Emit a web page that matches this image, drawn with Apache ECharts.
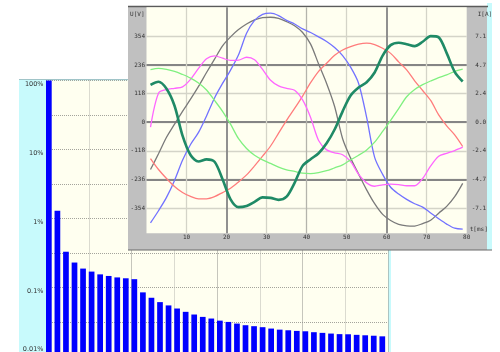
<!DOCTYPE html>
<html>
<head>
<meta charset="utf-8">
<script src="https://cdn.jsdelivr.net/npm/echarts@6/dist/echarts.min.js"></script>
<style>
html, body { margin: 0; padding: 0; background: #fff; }
#chart { width: 500px; height: 352px; }
</style>
</head>
<body>
<div id="chart"></div>
<script>
// back chart: harmonic levels in % of the fundamental
var harmonics = [1, 2, 3, 4, 5, 6, 7, 8, 9, 10, 11, 12, 13, 14, 15, 16, 17, 18, 19, 20,
    21, 22, 23, 24, 25, 26, 27, 28, 29, 30, 31, 32, 33, 34, 35, 36, 37, 38, 39, 40];
var harmonicLevels = [100, 1.3, 0.33, 0.23, 0.188, 0.17, 0.155, 0.147, 0.14, 0.136,
    0.132, 0.085, 0.071, 0.0614, 0.055, 0.0496, 0.0444, 0.0406, 0.0375, 0.0355,
    0.0331, 0.0317, 0.030, 0.0284, 0.0275, 0.0266, 0.0254, 0.0245, 0.024, 0.0235,
    0.0232, 0.0225, 0.022, 0.0215, 0.0211, 0.021, 0.0206, 0.0203, 0.020, 0.0196];
var levelLabels = ['0.01%', '0.1%', '1%', '10%', '100%']; // bottom -> top

// front chart: waveforms
var times = [1, 3, 5, 7, 9, 11, 13, 15, 17, 19, 21, 23, 25, 27, 29, 31, 33, 35, 37, 39,
    41, 43, 45, 47, 49, 51, 53, 55, 57, 59, 61, 63, 65, 67, 69, 71, 73, 75, 77, 79];
var uGray = [-195, -130, -62, -8, 45, 95, 148, 205, 260, 315, 352, 382, 405, 422, 431, 433, 428, 415, 398, 370,
    322, 240, 160, 65, -68, -148, -214, -279, -336, -380, -405, -421, -427, -428, -418, -404, -375, -347, -307, -252];
var uBlue = [-415, -365, -310, -240, -157, -92, -42, 26, 100, 160, 215, 278, 367, 420, 445, 450, 440, 420, 405, 385,
    370, 352, 333, 308, 275, 227, 160, 20, -145, -215, -268, -296, -318, -336, -350, -374, -398, -420, -437, -441];
var uRed = [-150, -195, -232, -265, -290, -306, -316, -316, -307, -290, -272, -246, -217, -180, -140, -98, -45, 8, 57, 108,
    163, 210, 243, 276, 298, 312, 322, 326, 320, 305, 284, 249, 216, 171, 131, 90, 30, -15, -52, -100];
var iPink = [-0.4, 2.4, 2.7, 2.8, 2.92, 3.54, 4.44, 5.24, 5.48, 5.28, 5.1, 5.12, 5.36, 5.16, 4.36, 3.46, 3.0, 2.8, 2.64, 1.84,
    0.4, -1.5, -2.28, -2.52, -2.68, -3.24, -4.3, -5.0, -5.28, -5.16, -5.1, -5.14, -5.24, -5.24, -4.64, -3.6, -2.8, -2.56, -2.34, -2.06];
var iGreen = [4.34, 4.44, 4.36, 4.2, 3.94, 3.64, 3.24, 2.66, 1.8, 0.9, -0.16, -1.36, -2.16, -2.72, -3.1, -3.4, -3.7, -3.92, -4.06, -4.2,
    -4.24, -4.16, -4.0, -3.76, -3.52, -3.1, -2.72, -2.28, -1.64, -0.76, 0.16, 1.12, 2.1, 2.7, 3.1, 3.4, 3.68, 3.9, 4.2, 4.38];
var iTeal = [3.08, 3.34, 2.76, 1.36, -1.1, -2.7, -3.24, -3.06, -3.26, -4.7, -6.36, -7.0, -6.9, -6.56, -6.2, -6.24, -6.4, -6.14, -5.0, -3.6,
    -3.05, -2.56, -1.74, -0.6, 0.9, 2.2, 2.86, 3.3, 4.1, 5.5, 6.36, 6.56, 6.44, 6.28, 6.64, 7.1, 7.0, 5.7, 4.16, 3.36];

var uTicks = [-354, -236, -118, 0, 118, 236, 354];
var iTicks = [-7.08, -4.72, -2.36, 0, 2.36, 4.72, 7.08];
var iMajor = [-4.72, 0, 4.72];
var tTicks = [10, 20, 30, 40, 50, 60, 70, 80];
var tMinor = [10, 30, 40, 50, 70];
var tMajor = [20, 60];

function pairs(ys) {
    return times.map(function (t, i) { return [t, ys[i]]; });
}

var small = { fontFamily: 'DejaVu Sans Mono', fontSize: 6, color: '#333' };

var myChart = echarts.init(document.getElementById('chart'));

function wave(name, ys, color, yIdx, width) {
    return {
        name: name,
        type: 'line',
        xAxisIndex: 1,
        yAxisIndex: yIdx,
        data: pairs(ys),
        smooth: 0.3,
        symbol: 'none',
        z: 13,
        lineStyle: { color: color, width: width || 1.3 }
    };
}

var option = {
    animation: false,
    graphic: [
        // back window
        { type: 'rect', z: 0, shape: { x: 19, y: 79, width: 372, height: 280 }, style: { fill: '#c8fafc' } },
        { type: 'line', z: 0, shape: { x1: 19, y1: 79.5, x2: 391, y2: 79.5 }, style: { stroke: '#a0c4c8', lineWidth: 1 } },
        // front window
        { type: 'rect', z: 10, shape: { x: 487, y: 3, width: 5, height: 247 }, style: { fill: '#c8fafc' } },
        { type: 'rect', z: 10, shape: { x: 128, y: 6, width: 359, height: 244 }, style: { fill: '#c0c0c0' } },
        { type: 'line', z: 10, shape: { x1: 128, y1: 6.5, x2: 488, y2: 6.5 }, style: { stroke: '#5a5a5a', lineWidth: 1.5 } },
        { type: 'line', z: 10, shape: { x1: 128, y1: 250, x2: 492, y2: 250 }, style: { stroke: '#6a6a6a', lineWidth: 1.2 } }
    ],
    grid: [
        { left: 46, top: 80.5, width: 342, height: 276, show: true, backgroundColor: '#fffff0', borderWidth: 0, z: 1, outerBoundsMode: 'none', containLabel: false },
        { left: 146.5, top: 7.3, width: 320.2, height: 226, show: true, backgroundColor: '#fffff0', borderWidth: 0, z: 11, outerBoundsMode: 'none', containLabel: false }
    ],
    xAxis: [
        {
            gridIndex: 0, type: 'category', data: harmonics, z: 2,
            axisLine: { show: false, onZero: false }, axisTick: { show: false }, axisLabel: { show: false },
            splitLine: { show: true, interval: 4, lineStyle: { type: 'dotted', color: ['#8e8e88', '#b8b8b0'] } }
        },
        {
            gridIndex: 1, type: 'value', min: 0, max: 80, position: 'bottom', z: 12,
            axisLine: { show: false, onZero: false },
            axisTick: { show: false, customValues: tMinor },
            axisLabel: Object.assign({ customValues: tTicks, margin: 1.5 }, small),
            splitLine: { show: true, lineStyle: { color: ['#d4d4c8', '#d4d4c8', '#b4b4ac', '#d4d4c8', '#d4d4c8'], width: 1.3 } },
            name: 't[ms]', nameLocation: 'end', nameGap: 3,
            nameTextStyle: Object.assign({ align: 'left', verticalAlign: 'bottom', padding: [0, 0, 1, 0] }, small)
        },
        {
            gridIndex: 1, type: 'value', min: 0, max: 80, position: 'top', z: 12,
            axisLine: { show: false, onZero: false },
            axisTick: { show: false, customValues: tMajor },
            axisLabel: { show: false },
            splitLine: { show: true, lineStyle: { color: '#858585', width: 1.8 } }
        }
    ],
    yAxis: [
        {
            gridIndex: 0, type: 'log', logBase: 10, min: 0.01, max: 100, startValue: 0.001, z: 2,
            axisLine: { show: false, onZero: false }, axisTick: { show: false },
            splitLine: { show: false },
            axisLabel: {
                margin: 2.5,
                fontFamily: 'DejaVu Sans', fontSize: 6.5, color: '#333',
                formatter: function (v, idx) {
                    var s = levelLabels[idx];
                    return idx === 0 ? '{lo|' + s + '}' : '{hi|' + s + '}';
                },
                rich: {
                    hi: { fontFamily: 'DejaVu Sans', fontSize: 6.5, color: '#333', padding: [7, 0, 0, 0] },
                    lo: { fontFamily: 'DejaVu Sans', fontSize: 6.5, color: '#333', padding: [0, 0, 14, 0] }
                }
            }
        },
        {
            gridIndex: 0, type: 'value', min: 0, max: 8, interval: 1, z: 2,
            axisLine: { show: false, onZero: false }, axisTick: { show: false }, axisLabel: { show: false },
            splitLine: { show: true, lineStyle: { type: 'dotted', color: '#a4a49c' } }
        },
        {
            gridIndex: 1, type: 'value', min: -458, max: 474, position: 'left', z: 12,
            axisLine: { show: false, onZero: false },
            axisTick: { show: false, customValues: uTicks },
            axisLabel: Object.assign({ customValues: uTicks, margin: 1.5 }, small),
            splitLine: { show: true, lineStyle: { color: '#d4d4c8', width: 1.3 } },
            name: 'U[V]', nameLocation: 'end', nameGap: -7,
            nameTextStyle: Object.assign({ align: 'right', verticalAlign: 'middle', padding: [0, 2, 0, 0] }, small)
        },
        {
            gridIndex: 1, type: 'value', min: -9.16, max: 9.48, position: 'right', z: 12,
            axisLine: { show: false, onZero: false },
            axisTick: { show: false, customValues: iMajor },
            axisLabel: Object.assign({
                customValues: iTicks, margin: 19.5, align: 'right',
                formatter: function (v) { return v.toFixed(1); }
            }, small),
            splitLine: { show: true, lineStyle: { color: '#858585', width: 1.8 } },
            name: 'I[A]', nameLocation: 'end', nameGap: -7,
            nameTextStyle: Object.assign({ align: 'left', verticalAlign: 'middle', padding: [0, 0, 0, 11] }, small)
        }
    ],
    series: [
        {
            name: 'level', type: 'bar', xAxisIndex: 0, yAxisIndex: 0, z: 3,
            data: harmonicLevels, barWidth: 5.7, barGap: '-50%',
            itemStyle: { color: '#0000ff' }
        },
        { name: 'spacer', type: 'bar', xAxisIndex: 0, yAxisIndex: 0, data: [], barWidth: 5.7 },
        wave('U1', uGray, '#7a7a7a', 2),
        wave('U2', uBlue, '#7272ff', 2),
        wave('U3', uRed, '#ff7c7c', 2),
        wave('I1', iPink, '#ff66ff', 3),
        wave('I2', iGreen, '#80f080', 3),
        wave('I3', iTeal, '#1f8a66', 3, 2.6)
    ]
};
myChart.setOption(option);
</script>
</body>
</html>
